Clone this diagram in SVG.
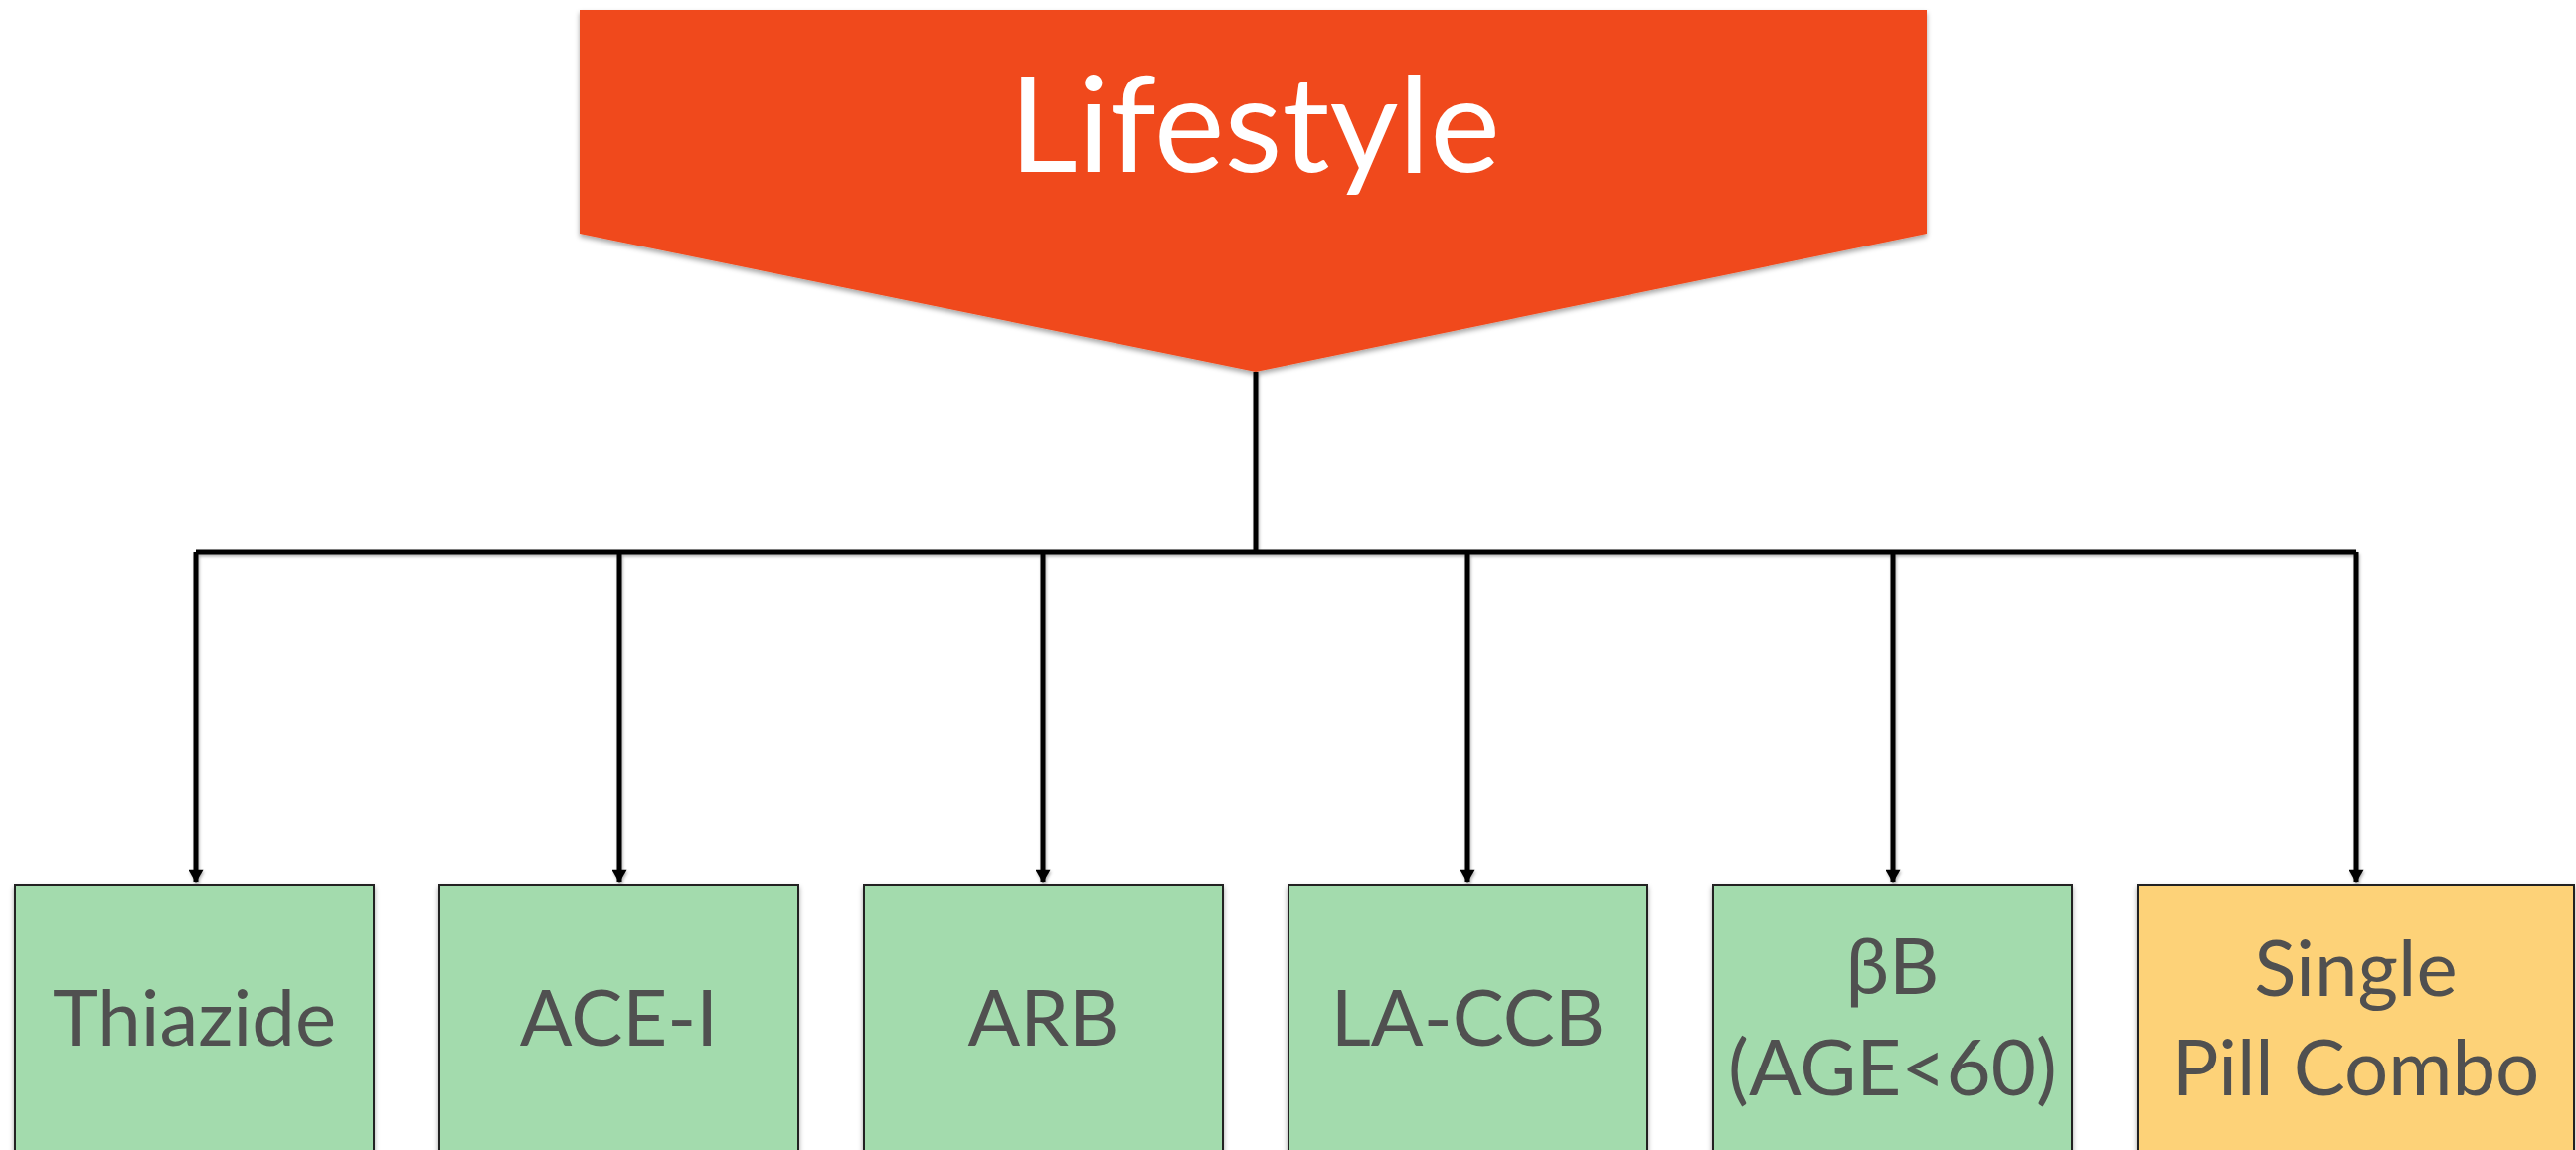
<svg xmlns="http://www.w3.org/2000/svg" width="2591" height="1157" viewBox="0 0 2591 1157">
  <defs>
    <filter id="sh" x="-5%" y="-5%" width="110%" height="120%">
      <feDropShadow dx="0" dy="3" stdDeviation="2.5" flood-color="#000" flood-opacity="0.35"/>
    </filter>
    <filter id="lsh" x="-5%" y="-5%" width="110%" height="120%">
      <feDropShadow dx="1" dy="2" stdDeviation="1.5" flood-color="#000" flood-opacity="0.3"/>
    </filter>
    <marker id="arr" markerWidth="17" markerHeight="15" refX="13" refY="8" orient="auto" markerUnits="userSpaceOnUse" viewBox="0 0 14 16">
      <path d="M0,0 L14,8 L0,16 Z" fill="#000"/>
    </marker>
    <style>
      .box { stroke: #222; stroke-width: 2; filter: url(#sh); }
      .green { fill: #a3dbad; }
      .yellow { fill: #fdd278; }
      .lbl { font-family: Lato, "Liberation Sans", sans-serif; font-size: 78px; fill: #505050; text-anchor: middle; }
      .conn { stroke: #000; stroke-width: 5; fill: none; }
    </style>
  </defs>
  <rect width="2591" height="1157" fill="#fff"/>

  <g id="lifestyle">
    <polygon points="583,10 1938,10 1938,235 1263,374 583,235" fill="#f04a1b" filter="url(#sh)"/>
    <text x="1262" y="173" font-family="Lato, 'Liberation Sans', sans-serif" font-size="134" fill="#fff" text-anchor="middle">Lifestyle</text>
  </g>

  <g id="connectors" filter="url(#lsh)">
    <polyline class="conn" points="1263,374 1263,555"/>
    <polyline class="conn" points="197,555 2370,555"/>
    <line class="conn" x1="197" y1="555" x2="197" y2="887" marker-end="url(#arr)"/>
    <line class="conn" x1="623" y1="555" x2="623" y2="887" marker-end="url(#arr)"/>
    <line class="conn" x1="1049" y1="555" x2="1049" y2="887" marker-end="url(#arr)"/>
    <line class="conn" x1="1476" y1="555" x2="1476" y2="887" marker-end="url(#arr)"/>
    <line class="conn" x1="1904" y1="555" x2="1904" y2="887" marker-end="url(#arr)"/>
    <line class="conn" x1="2370" y1="555" x2="2370" y2="887" marker-end="url(#arr)"/>
  </g>

  <g id="thiazide">
    <rect class="box green" x="15" y="890" width="361" height="275"/>
    <text class="lbl" x="195.5" y="1052">Thiazide</text>
  </g>
  <g id="ace-i">
    <rect class="box green" x="442" y="890" width="361" height="275"/>
    <text class="lbl" x="622.5" y="1052">ACE-I</text>
  </g>
  <g id="arb">
    <rect class="box green" x="869" y="890" width="361" height="275"/>
    <text class="lbl" x="1049.5" y="1052">ARB</text>
  </g>
  <g id="la-ccb">
    <rect class="box green" x="1296" y="890" width="361" height="275"/>
    <text class="lbl" x="1476.5" y="1052">LA-CCB</text>
  </g>
  <g id="bb">
    <rect class="box green" x="1723" y="890" width="361" height="275"/>
    <text class="lbl" x="1903.5" y="1000">βB</text>
    <text class="lbl" x="1903.5" y="1102">(AGE&lt;60)</text>
  </g>
  <g id="single-pill">
    <rect class="box yellow" x="2150" y="890" width="439" height="275"/>
    <text class="lbl" x="2369.5" y="1002">Single</text>
    <text class="lbl" x="2369.5" y="1102">Pill Combo</text>
  </g>
</svg>
